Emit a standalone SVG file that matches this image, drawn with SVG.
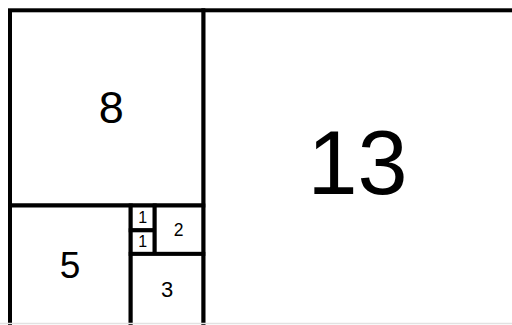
<svg xmlns="http://www.w3.org/2000/svg" width="512" height="325" viewBox="0 0 512 325">
<style>
.sq{fill:#fff;stroke:#000;stroke-width:4}
.lb{font-family:"Liberation Sans",Arial,sans-serif;fill:#000;text-anchor:middle}
</style>
<rect width="512" height="325" fill="#fff"/>
<g id="sq13"><rect class="sq" x="203.3" y="10.3" width="320" height="320"/><text class="lb" x="357.5" y="194" font-size="90">13</text></g>
<g id="sq8"><rect class="sq" x="10" y="10.3" width="193.3" height="195.2"/><text class="lb" x="111.3" y="122.7" font-size="45">8</text></g>
<g id="sq5"><rect class="sq" x="10" y="205.5" width="120.7" height="125"/><text class="lb" x="70" y="278" font-size="37">5</text></g>
<g id="sq1a"><rect class="sq" x="130.7" y="205.5" width="24" height="24.8"/><text class="lb" x="142.7" y="223.3" font-size="16">1</text></g>
<g id="sq1b"><rect class="sq" x="130.7" y="230.3" width="24" height="23.6"/><text class="lb" x="142.7" y="247.3" font-size="16">1</text></g>
<g id="sq2"><rect class="sq" x="154.7" y="205.5" width="48.6" height="48.4"/><text class="lb" x="178.7" y="236" font-size="17.5">2</text></g>
<g id="sq3"><rect class="sq" x="130.7" y="253.9" width="72.6" height="76"/><text class="lb" x="167" y="296.7" font-size="22">3</text></g>
<line x1="0" y1="323.5" x2="512" y2="323.5" stroke="#e2e2e2" stroke-width="1.5"/>
</svg>
